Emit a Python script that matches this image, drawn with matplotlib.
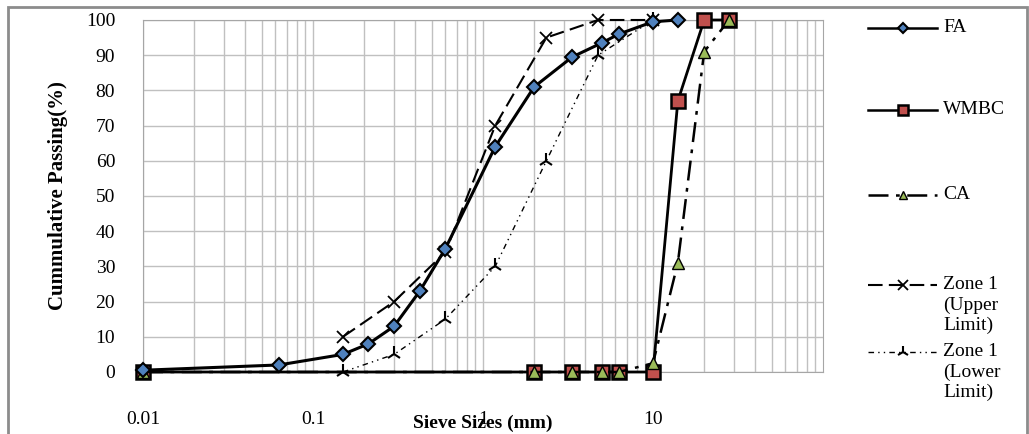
"""Sieve analysis chart: cumulative passing vs sieve size (log scale)."""

import matplotlib
matplotlib.use("Agg")
import matplotlib.pyplot as plt
from matplotlib.patches import Rectangle

plt.rcParams.update({
    "font.family": "Liberation Serif",
    "font.size": 14,
})

# data
fa_x = [0.01, 0.063, 0.15, 0.212, 0.3, 0.425, 0.6, 1.18, 2.0, 3.35, 5.0, 6.3, 10.0, 14.0]
fa_y = [0.5, 2, 5, 8, 13, 23, 35, 64, 81, 89.5, 93.5, 96, 99.5, 100]

wmbc_x = [0.01, 2.0, 3.35, 5.0, 6.3, 10.0, 14.0, 20.0, 28.0]
wmbc_y = [0, 0, 0, 0, 0, 0, 77, 100, 100]

ca_x = [0.01, 2.0, 3.35, 5.0, 6.3, 10.0, 14.0, 20.0, 28.0]
ca_y = [0, 0, 0, 0, 0, 2.5, 31, 91, 100]

upper_x = [0.15, 0.3, 0.6, 1.18, 2.36, 4.75, 10.0]
upper_y = [10, 20, 34, 70, 95, 100, 100]

lower_x = [0.15, 0.3, 0.6, 1.18, 2.36, 4.75, 10.0]
lower_y = [0, 5, 15, 30, 60, 90, 100]

labels = ["FA", "WMBC", "CA", "Zone 1\n(Upper\nLimit)", "Zone 1\n(Lower\nLimit)"]

BLUE, RED, GREEN = "#4f81bd", "#c0504d", "#9bbb59"
GRID = "#c0c0c0"

styles = [
    dict(ls="-", lw=2.2, marker="D", ms=7, mfc=BLUE, mec="black", mew=1.5, color="black"),
    dict(ls="-", lw=2.0, marker="s", ms=10, mfc=RED, mec="black", mew=1.8, color="black"),
    dict(ls=(0, (8, 3, 1.5, 3)), lw=1.8, marker="^", ms=8, mfc=GREEN, mec="black", mew=1.0, color="black"),
    dict(ls=(0, (7, 3)), lw=1.5, marker="x", ms=9, mew=1.3, color="black"),
    dict(ls=(0, (4, 3, 1, 3, 1, 3)), lw=1.0, marker="2", ms=11, mew=1.5, color="black"),
]
zorders = [7, 3, 4, 5, 5]

fig = plt.figure(figsize=(10.29, 4.34), dpi=100)
ax = fig.add_axes([143 / 1029, 1 - 372 / 434, 680 / 1029, 352 / 434])

series = [(fa_x, fa_y), (wmbc_x, wmbc_y), (ca_x, ca_y), (upper_x, upper_y), (lower_x, lower_y)]
for (xs, ys), st, z in zip(series, styles, zorders):
    ax.plot(xs, ys, clip_on=False, zorder=z, **st)

ax.set_xscale("log")
ax.set_xlim(0.01, 100)
ax.set_ylim(0, 100)
ax.set_yticks(range(0, 101, 10))
ax.set_xticks([0.01, 0.1, 1, 10])
ax.set_xticklabels(["0.01", "0.1", "1", "10"])
ax.grid(True, which="major", color=GRID, lw=1.0)
ax.grid(True, which="minor", axis="x", color=GRID, lw=1.0)
ax.tick_params(which="both", length=0)
ax.tick_params(axis="y", pad=20)
ax.tick_params(axis="x", pad=28)
for sp in ax.spines.values():
    sp.set_color("#a6a6a6")
ax.set_axisbelow(True)

ax.set_xlabel("Sieve Sizes (mm)", fontsize=14, fontweight="bold", va="center")
ax.xaxis.set_label_coords(0.5, -0.145)
ax.set_ylabel("Cummulative Passing(%)", fontsize=15, fontweight="bold", va="center")
ax.yaxis.set_label_coords(-(143 - 58) / 680, 0.5)

# legend drawn by hand so the uneven spacing of the reference is kept
lax = fig.add_axes([0, 0, 1, 1], facecolor="none")
lax.set_xlim(0, 1029)
lax.set_ylim(434, 0)
lax.axis("off")
entry_y = [28, 110, 195, 285, 352]
for y, lab, st in zip(entry_y, labels, styles):
    st = dict(st)
    marker = dict(marker=st.pop("marker"), ms=st.pop("ms") * 0.75,
                  mfc=st.pop("mfc", "black"), mec=st.pop("mec", "black"), mew=st.pop("mew"))
    lax.plot([868, 937], [y, y], color="black", ls=st["ls"], lw=min(st["lw"], 1.8))
    lax.plot([902.5], [y], ls="none", **marker)
    lax.text(943, y - 9, lab, ha="left", va="top", fontsize=14, linespacing=1.25)

fig.add_artist(Rectangle((8 / 1029, -0.01), 1019 / 1029, 1 - 7 / 434 + 0.01,
                         transform=fig.transFigure, fill=False, ec="#8c8c8c", lw=2))

fig.savefig("out.png", dpi=100)
